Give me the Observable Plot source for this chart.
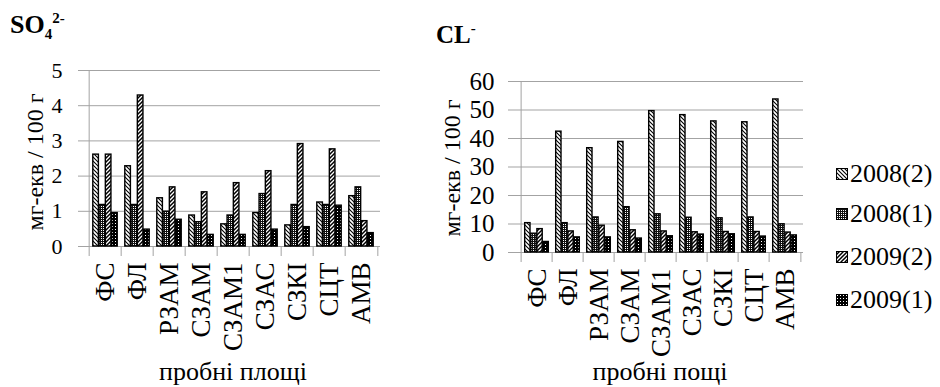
<!DOCTYPE html>
<html>
<head>
<meta charset="utf-8">
<script src="https://cdn.jsdelivr.net/npm/d3@7"></script>
<script src="https://cdn.jsdelivr.net/npm/@observablehq/plot@0.6"></script>
<style>
  html, body { margin: 0; padding: 0; background: white; }
  #chart { position: relative; width: 940px; height: 387px; overflow: hidden; font-family: "Liberation Serif", "Times New Roman", serif; color: black; }
  #chart svg text { font-family: "Liberation Serif", "Times New Roman", serif; }
  .abs { position: absolute; white-space: nowrap; line-height: 1; }
  .title { font-weight: bold; }
  .title .s { font-size: 15px; position: relative; }
  .ylab { font-size: 24px; transform: translate(-50%, -50%) rotate(-90deg); }
  .xlab { font-size: 26px; transform: translateX(-50%); }
  .leg { font-size: 26px; display: flex; align-items: center; }
  .leg svg { margin-right: 2px; }
</style>
</head>
<body>
<div id="chart">
  <svg width="0" height="0" style="position:absolute">
    <defs>
      <pattern id="pat0" width="4" height="4" patternUnits="userSpaceOnUse">
        <rect width="4" height="4" fill="white"/>
        <path d="M-1,-1 L5,5 M3,-1 L5,1 M-1,3 L1,5" stroke="black" stroke-width="1.1"/>
      </pattern>
      <pattern id="pat1" width="2" height="2" patternUnits="userSpaceOnUse">
        <rect width="2" height="2" fill="#111"/>
        <rect x="1" y="0" width="1" height="1" fill="white"/>
      </pattern>
      <pattern id="pat2" width="4" height="4" patternUnits="userSpaceOnUse">
        <rect width="4" height="4" fill="white"/>
        <path d="M-1,5 L5,-1 M-1,1 L1,-1 M3,5 L5,3" stroke="black" stroke-width="1.5"/>
      </pattern>
      <pattern id="pat3" width="3" height="3" patternUnits="userSpaceOnUse">
        <rect width="3" height="3" fill="black"/>
        <rect x="1" y="1" width="1" height="1" fill="white"/>
      </pattern>
    </defs>
  </svg>
</div>
<script>
// ---------- data ----------
const categories = ["ФС", "ФЛ", "РЗАМ", "СЗАМ", "СЗАМ1", "СЗАС", "СЗКІ", "СЦТ", "АМВ"];
const series = ["2008(2)", "2008(1)", "2009(2)", "2009(1)"];

// SO4 2-  (мг-екв / 100 г)
const so4_2008_2 = [2.61, 2.28, 1.37, 0.88, 0.63, 0.95, 0.60, 1.25, 1.43];
const so4_2008_1 = [1.18, 1.18, 0.99, 0.69, 0.88, 1.49, 1.18, 1.18, 1.68];
const so4_2009_2 = [2.61, 4.29, 1.68, 1.54, 1.80, 2.14, 2.91, 2.76, 0.72];
const so4_2009_1 = [0.95, 0.48, 0.76, 0.33, 0.33, 0.48, 0.55, 1.16, 0.38];

// CL-  (мг-екв / 100 г)
const cl_2008_2 = [10.3, 42.4, 36.6, 38.8, 49.6, 48.2, 46.0, 45.7, 53.7];
const cl_2008_1 = [6.6, 10.3, 12.3, 15.9, 13.4, 12.2, 12.0, 12.3, 9.9];
const cl_2009_2 = [8.2, 7.4, 9.4, 7.8, 7.4, 7.1, 7.2, 7.2, 7.0];
const cl_2009_1 = [3.7, 5.3, 5.3, 4.9, 5.7, 6.3, 6.4, 5.6, 6.0];

const so4Ticks = [0, 1, 2, 3, 4, 5];
const clTicks = [0, 10, 20, 30, 40, 50, 60];

const yLabel = "мг-екв / 100 г";
const xLabelLeft = "пробні площі";
const xLabelRight = "пробні пощі";

const patterns = ["url(#pat0)", "url(#pat1)", "url(#pat2)", "url(#pat3)"];
const grid = "#a3a3a3";

function rows(arrs) {
  return arrs.map((vals, si) => vals.map((v, ci) => ({cat: categories[ci], series: series[si], value: v})));
}

function panel({data, ticks, width, height, ml, mr, mt, mb, tickFont, catFont, tickSize, tickPadding}) {
  const step = (width - ml - mr) / categories.length;
  const bw = step * 0.192;
  const off = (step - 4 * bw) / 2;
  const marks = [
    Plot.ruleY(ticks, {y: d => d, stroke: grid, strokeWidth: 1}),
    ...data.map((rs, i) => Plot.barY(rs, {
      x: "cat", y: "value", fill: patterns[i], stroke: "black", strokeWidth: 1.4,
      insetLeft: off + i * bw, insetRight: step - off - (i + 1) * bw
    })),
    Plot.ruleX([categories[0]], {x: d => d, dx: -step / 2, stroke: grid}),
    Plot.ruleX(categories, {x: d => d, dx: -step / 2, y1: 0, y2: 0, insetBottom: -10, stroke: grid}),
    Plot.ruleX([categories[categories.length - 1]], {x: d => d, dx: step / 2, y1: 0, y2: 0, insetBottom: -10, stroke: grid}),
    Plot.axisY({ticks, tickSize, tickPadding, tickFormat: d => String(d), stroke: grid, fill: "black", fontSize: tickFont, label: null}),
    Plot.axisX({tickSize: 0, tickPadding: 16, tickRotate: -90, fontSize: catFont, label: null, fill: "black"})
  ];
  return Plot.plot({
    width, height,
    marginLeft: ml, marginRight: mr, marginTop: mt, marginBottom: mb,
    x: {type: "band", domain: categories, padding: 0, label: null},
    y: {domain: [ticks[0], ticks[ticks.length - 1]], label: null},
    style: {fontFamily: "'Liberation Serif', 'Times New Roman', serif", color: "black", background: "transparent", overflow: "visible"},
    marks
  });
}

const chart = document.getElementById("chart");

const left = panel({
  data: rows([so4_2008_2, so4_2008_1, so4_2009_2, so4_2009_1]),
  ticks: so4Ticks, width: 390, height: 387, ml: 86, mr: 10, mt: 70, mb: 141,
  tickFont: 22, catFont: 27, tickSize: 8, tickPadding: 16
});
left.style.position = "absolute"; left.style.left = "0px"; left.style.top = "0px";
chart.appendChild(left);

const right = panel({
  data: rows([cl_2008_2, cl_2008_1, cl_2009_2, cl_2009_1]),
  ticks: clTicks, width: 410, height: 387, ml: 117, mr: 7, mt: 81, mb: 135,
  tickFont: 25, catFont: 27, tickSize: 9, tickPadding: 14
});
right.style.position = "absolute"; right.style.left = "400px"; right.style.top = "0px";
chart.appendChild(right);

function addDiv(cls, html, x, y, size) {
  const d = document.createElement("div");
  d.className = "abs " + cls;
  d.innerHTML = html;
  d.style.left = x + "px"; d.style.top = y + "px";
  if (size) d.style.fontSize = size + "px";
  chart.appendChild(d);
  return d;
}

addDiv("title", "SO<span class='s' style='top:6px'>4</span><span class='s' style='top:-10px'>2-</span>", 10, 12, 26);
addDiv("title", "CL<span class='s' style='top:-10px'>-</span>", 436, 22, 25);
addDiv("ylab", yLabel, 35, 162);
addDiv("ylab", yLabel, 452, 168);
addDiv("xlab", xLabelLeft, 233, 359);
addDiv("xlab", xLabelRight, 660, 359);

const legY = [174, 214, 257, 300];
series.forEach((s, i) => {
  const d = addDiv("leg", "", 836, legY[i] - 13);
  d.innerHTML = `<svg width="12" height="12"><rect x="0.5" y="0.5" width="11" height="11" fill="${patterns[i]}" stroke="black" stroke-width="1"/></svg><span>${s}</span>`;
});
</script>
</body>
</html>
